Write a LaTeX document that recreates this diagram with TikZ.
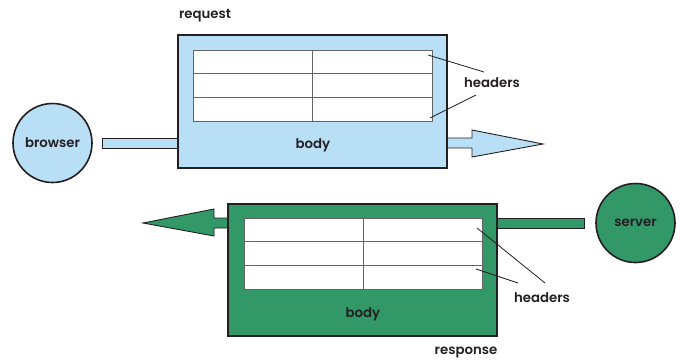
\documentclass[tikz,border=0pt]{standalone}
\usepackage{fontspec}
\setmainfont{Poppins SemiBold}
\usetikzlibrary{calc}
\definecolor{lblue}{RGB}{184,223,245}
\definecolor{dgreen}{RGB}{50,152,104}
\definecolor{edgec}{RGB}{35,31,32}
\definecolor{gridc}{RGB}{100,100,100}
\begin{document}
\begin{tikzpicture}[x=1pt,y=-1pt,
  lbl/.style={font=\fontsize{13.3}{15}\selectfont, text=edgec, inner sep=0pt},
  msgbox/.style={draw=edgec, line width=2.4pt, minimum width=269pt, minimum height=133pt, inner sep=0pt},
  tab/.style={draw=gridc, fill=white, line width=1pt, minimum width=239pt, minimum height=71pt, inner sep=0pt},
  gridline/.style={draw=gridc, line width=1pt},
  party/.style={circle, draw=edgec, line width=1.6pt, minimum size=79pt, inner sep=0pt, font=\fontsize{13.3}{15}\selectfont, text=edgec},
  shaft/.style={draw=edgec, line width=0.9pt},
  pointer/.style={draw=edgec, line width=0.8pt}
]
\useasboundingbox (0,0) rectangle (680,362);

% parties
\node[party, fill=lblue] (browser) at (52.5,143) {browser};
\node[party, fill=dgreen] (server) at (635.5,223) {server};

% request
\coordinate (rs1) at (102,138);
\coordinate (rs2) at (102,148);
\path[shaft, fill=lblue] (rs1) -- (180,138) -- (180,148) -- (rs2) -- cycle;
\path[shaft, fill=lblue] (445,138) -- (472,138) -- (472,130) -- (543,144) coordinate (rtip) -- (472,157) -- (472,148) -- (445,148) -- cycle;
\node[msgbox, fill=lblue] (req) at (312.5,101.5) {};
\node[tab] (reqtab) at (312.5,85.5) {};
\draw[gridline] ($(reqtab.north west)!1/3!(reqtab.south west)$) -- ($(reqtab.north east)!1/3!(reqtab.south east)$);
\draw[gridline] ($(reqtab.north west)!2/3!(reqtab.south west)$) -- ($(reqtab.north east)!2/3!(reqtab.south east)$);
\draw[gridline] (reqtab.north) -- (reqtab.south);
\node[lbl] (reqbody) at (313,145) {body};
\node[lbl] (reqlabel) at (205,16) {request};
\node[lbl] (reqhead) at (492,83) {headers};
\coordinate (rh1) at (428,55);
\coordinate (rh2) at (430,118);
\draw[pointer] (rh1) -- (484,72);
\draw[pointer] (rh2) -- (476,95);

% response
\path[shaft, fill=dgreen] (495,218) -- (584,218) coordinate (ss1) -- (584,228) -- (495,228) -- cycle;
\path[shaft, fill=dgreen] (230,218) -- (214,218) -- (214,209) -- (143,223) coordinate (ltip) -- (214,236) -- (214,228) -- (230,228) -- cycle;
\node[msgbox, fill=dgreen, minimum height=132pt] (resp) at (362.5,270) {};
\node[tab, minimum width=238pt] (resptab) at (363,253.5) {};
\draw[gridline] ($(resptab.north west)!1/3!(resptab.south west)$) -- ($(resptab.north east)!1/3!(resptab.south east)$);
\draw[gridline] ($(resptab.north west)!2/3!(resptab.south west)$) -- ($(resptab.north east)!2/3!(resptab.south east)$);
\draw[gridline] (resptab.north) -- (resptab.south);
\node[lbl] (respbody) at (363,314) {body};
\node[lbl] (resplabel) at (466,353) {response};
\node[lbl] (resphead) at (542,298) {headers};
\coordinate (sh1) at (477,228);
\coordinate (sh2) at (476,269);
\draw[pointer] (sh1) -- (545,283);
\draw[pointer] (sh2) -- (518,283);
\end{tikzpicture}
\end{document}
